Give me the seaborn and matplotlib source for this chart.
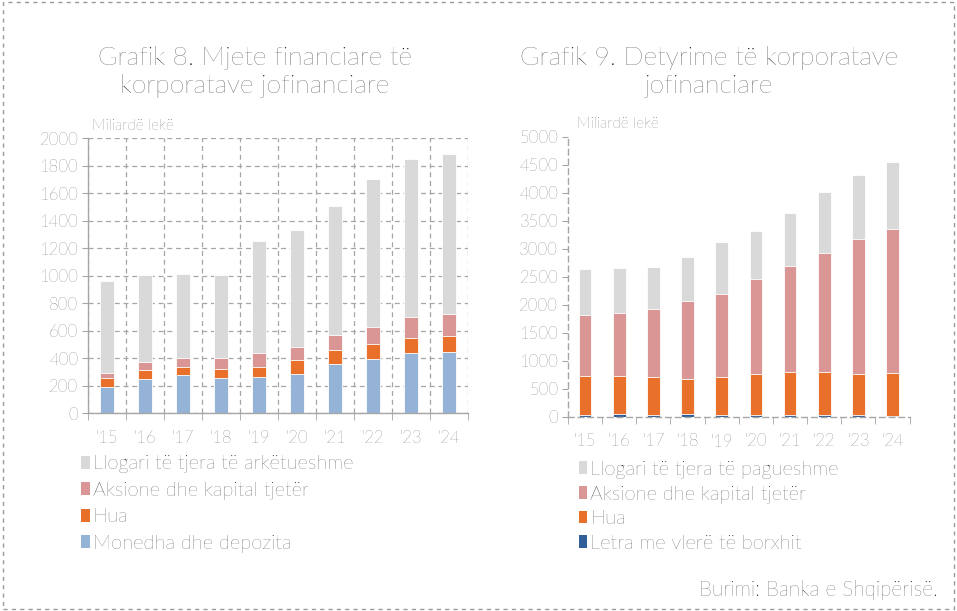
import numpy as np
import matplotlib
matplotlib.use("Agg")
import matplotlib.pyplot as plt
import seaborn as sns
from matplotlib.patches import Patch, Rectangle

years = ["'15", "'16", "'17", "'18", "'19", "'20", "'21", "'22", "'23", "'24"]

# Grafik 8 - mjete financiare (miliardë lekë)
monedha = [187, 250, 277, 258, 260, 284, 357, 396, 437, 442]
hua_mjete = [66, 61, 56, 60, 73, 102, 102, 105, 112, 117]
aksione_mjete = [36, 61, 66, 83, 102, 93, 112, 126, 146, 158]
llogari_ark = [671, 632, 614, 603, 816, 850, 938, 1072, 1154, 1166]

# Grafik 9 - detyrime (miliardë lekë)
letra = [35, 40, 35, 40, 35, 30, 30, 30, 25, 5]
hua_det = [697, 692, 673, 639, 673, 732, 768, 768, 743, 775]
aksione_det = [1083, 1119, 1215, 1381, 1482, 1690, 1892, 2125, 2405, 2571]
llogari_pag = [816, 798, 744, 785, 929, 869, 953, 1083, 1148, 1197]

c_gray = "#D9D9D9"
c_pink = "#DA9694"
c_orange = "#E8702A"
c_lblue = "#95B3D7"
c_dblue = "#2F5E98"
txt = "#1f1f1f"
tick_c = "#3a3a3a"
axc = "#A6A6A6"
dash = (0, (4, 3))

sns.set_style("white")
plt.rcParams["font.family"] = ["Lato", "DejaVu Sans"]
plt.rcParams["font.weight"] = "light"

fig = plt.figure(figsize=(9.57, 6.11), dpi=100)
ax1 = fig.add_axes([0.092, 0.324, 0.397, 0.450])
ax2 = fig.add_axes([0.5935, 0.318, 0.357, 0.458])


def stacked(ax, series, colors, width):
    cum = np.cumsum(np.array(series), axis=0)
    # tallest first so lower layers show on top
    for vals, col in zip(cum[::-1], colors[::-1]):
        sns.barplot(x=years, y=vals, color=col, saturation=1, width=width,
                    edgecolor="white", linewidth=0.6, ax=ax)


stacked(ax1, [monedha, hua_mjete, aksione_mjete, llogari_ark],
        [c_lblue, c_orange, c_pink, c_gray], 0.39)
stacked(ax2, [letra, hua_det, aksione_det, llogari_pag],
        [c_dblue, c_orange, c_pink, c_gray], 0.37)

for ax in (ax1, ax2):
    ax.set_xlim(-0.5, 9.5)
    ax.set_xlabel("")
    ax.set_ylabel("")
    ax.set_xticks(np.arange(-0.5, 10, 1), minor=True)
    ax.tick_params(axis="x", which="major", length=0, pad=12,
                   labelsize=12, labelcolor=tick_c)
    ax.tick_params(axis="x", which="minor", length=5, color=axc,
                   direction="out", bottom=True)
    ax.tick_params(axis="y", length=4, color=axc, left=True,
                   labelsize=12, labelcolor=tick_c, pad=3)
    ax.spines["top"].set_visible(False)
    ax.spines["right"].set_visible(False)
    for s in ("left", "bottom"):
        ax.spines[s].set_color(axc)
        ax.spines[s].set_linewidth(1)
    ax.set_axisbelow(True)

ax1.set_ylim(0, 2000)
ax1.set_yticks(range(0, 2001, 200))
ax1.yaxis.grid(True, ls=dash, color=axc, lw=0.9)
ax1.xaxis.grid(True, which="minor", ls=dash, color=axc, lw=0.9)
ax1.xaxis.grid(False, which="major")

ax2.set_ylim(0, 5000)
ax2.set_yticks(range(0, 5001, 500))
ax2.grid(False)
for s in ("left", "bottom"):
    ax2.spines[s].set_linestyle(dash)

ax1.text(0.01, 1.02, "Miliardë lekë", transform=ax1.transAxes, fontsize=11,
         color=tick_c, ha="left", va="bottom")
ax2.text(0.025, 1.02, "Miliardë lekë", transform=ax2.transAxes, fontsize=11,
         color=tick_c, ha="left", va="bottom")

fig.text(0.266, 0.882, "Grafik 8. Mjete financiare të\nkorporatave jofinanciare",
         ha="center", va="center", fontsize=19, color=txt, linespacing=1.18)
fig.text(0.741, 0.882, "Grafik 9. Detyrime të korporatave\njofinanciare",
         ha="center", va="center", fontsize=19, color=txt, linespacing=1.18)

leg_kw = dict(loc="upper left", frameon=False, fontsize=14.5, labelcolor=txt,
              handlelength=0.42, handleheight=0.6, handletextpad=0.15,
              borderpad=0, borderaxespad=0)
fig.legend(handles=[Patch(facecolor=c_gray, lw=0, label="Llogari të tjera të arkëtueshme"),
                    Patch(facecolor=c_pink, lw=0, label="Aksione dhe kapital tjetër"),
                    Patch(facecolor=c_orange, lw=0, label="Hua"),
                    Patch(facecolor=c_lblue, lw=0, label="Monedha dhe depozita")],
           bbox_to_anchor=(0.085, 0.255), labelspacing=0.42, **leg_kw)
fig.legend(handles=[Patch(facecolor=c_gray, lw=0, label="Llogari të tjera të pagueshme"),
                    Patch(facecolor=c_pink, lw=0, label="Aksione dhe kapital tjetër"),
                    Patch(facecolor=c_orange, lw=0, label="Hua"),
                    Patch(facecolor=c_dblue, lw=0, label="Letra me vlerë të borxhit")],
           bbox_to_anchor=(0.605, 0.246), labelspacing=0.33, **leg_kw)

fig.text(0.980, 0.034, "Burimi: Banka e Shqipërisë.", ha="right", va="center",
         fontsize=15, color=txt)

fig.patches.append(Rectangle((0.003, 0.004), 0.994, 0.992, transform=fig.transFigure,
                             fill=False, ls=(0, (3, 3)), ec="#9A9A9A", lw=1))

fig.savefig("out.png", dpi=100)
